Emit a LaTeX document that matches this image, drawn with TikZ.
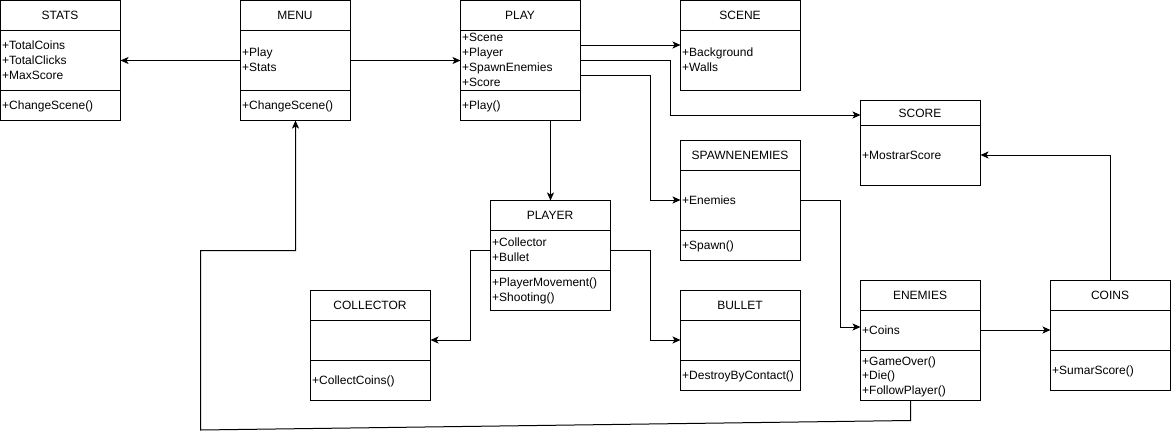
\documentclass[tikz,border=0pt]{standalone}
\usepackage{fontspec}
\setmainfont{Liberation Sans}
\usetikzlibrary{arrows.meta}
\tikzset{
  box/.style={draw, line width=1pt, anchor=north west, inner sep=0pt, outer sep=0pt, minimum width=120pt},
  hdr/.style={inner sep=0pt, yshift=-1.2pt, font=\fontsize{12}{14}\selectfont, text height=9pt, text depth=2.5pt},
  attr/.style={anchor=west, inner sep=0pt, yshift=-1.2pt, font=\fontsize{12}{14}\selectfont, text height=9pt, text depth=3pt},
  div/.style={line width=1pt},
  conn/.style={line width=1pt},
  arr/.style={line width=1pt, -{Stealth[length=8pt,width=7pt,inset=2pt]}}
}
\begin{document}
\begin{tikzpicture}[x=1pt,y=-1pt]
\useasboundingbox (0,0) rectangle (1171,439);

% STATS
\node[box, minimum height=120pt] (stats) at (0.5,0.5) {};
\node[hdr] (statsT) at (60,15) {STATS};
\draw[div] (stats.west |- 0,30) -- (stats.east |- 0,30);
\draw[div] (stats.west |- 0,90) -- (stats.east |- 0,90);
\node[attr] (statsA1) at (2,45) {+TotalCoins};
\node[attr] (statsA2) at (2,60) {+TotalClicks};
\node[attr] (statsA3) at (2,75) {+MaxScore};
\node[attr] (statsM1) at (2,105) {+ChangeScene()};

% MENU
\node[box, minimum width=110pt, minimum height=120pt] (menu) at (240.5,0.5) {};
\node[hdr] (menuT) at (295,15) {MENU};
\draw[div] (menu.west |- 0,30) -- (menu.east |- 0,30);
\draw[div] (menu.west |- 0,90) -- (menu.east |- 0,90);
\node[attr] (menuA1) at (242,52.5) {+Play};
\node[attr] (menuA2) at (242,67.5) {+Stats};
\node[attr] (menuM1) at (242,105) {+ChangeScene()};

% PLAY
\node[box, minimum height=120pt] (play) at (460.5,0.5) {};
\node[hdr] (playT) at (520,15) {PLAY};
\draw[div] (play.west |- 0,30) -- (play.east |- 0,30);
\draw[div] (play.west |- 0,90) -- (play.east |- 0,90);
\node[attr] (playA1) at (462,37.5) {+Scene};
\node[attr] (playA2) at (462,52.5) {+Player};
\node[attr] (playA3) at (462,67.5) {+SpawnEnemies};
\node[attr] (playA4) at (462,82.5) {+Score};
\node[attr] (playM1) at (462,105) {+Play()};

% SCENE
\node[box, minimum height=90pt] (scene) at (680.5,0.5) {};
\node[hdr] (sceneT) at (740,15) {SCENE};
\draw[div] (scene.west |- 0,30) -- (scene.east |- 0,30);
\node[attr] (sceneA1) at (682,52.5) {+Background};
\node[attr] (sceneA2) at (682,67.5) {+Walls};

% SCORE
\node[box, minimum height=85pt] (score) at (860.5,100.5) {};
\node[hdr] (scoreT) at (920,113) {SCORE};
\draw[div] (score.west |- 0,125.5) -- (score.east |- 0,125.5);
\node[attr] (scoreA1) at (862,155) {+MostrarScore};

% SPAWNENEMIES
\node[box, minimum height=120pt] (spawn) at (680.5,140.5) {};
\node[hdr] (spawnT) at (740,155) {SPAWNENEMIES};
\draw[div] (spawn.west |- 0,170.5) -- (spawn.east |- 0,170.5);
\draw[div] (spawn.west |- 0,230.5) -- (spawn.east |- 0,230.5);
\node[attr] (spawnA1) at (682,200) {+Enemies};
\node[attr] (spawnM1) at (682,245) {+Spawn()};

% PLAYER
\node[box, minimum height=110pt] (player) at (490.5,200.5) {};
\node[hdr] (playerT) at (550,215) {PLAYER};
\draw[div] (player.west |- 0,230.5) -- (player.east |- 0,230.5);
\draw[div] (player.west |- 0,270.5) -- (player.east |- 0,270.5);
\node[attr] (playerA1) at (492,242.5) {+Collector};
\node[attr] (playerA2) at (492,257.5) {+Bullet};
\node[attr] (playerM1) at (492,282.5) {+PlayerMovement()};
\node[attr] (playerM2) at (492,297.5) {+Shooting()};

% COLLECTOR
\node[box, minimum height=110pt] (collector) at (310.5,290.5) {};
\node[hdr] (collectorT) at (370,305) {COLLECTOR};
\draw[div] (collector.west |- 0,320.5) -- (collector.east |- 0,320.5);
\draw[div] (collector.west |- 0,360.5) -- (collector.east |- 0,360.5);
\node[attr] (collectorM1) at (312,380) {+CollectCoins()};

% BULLET
\node[box, minimum height=100pt] (bullet) at (680.5,290.5) {};
\node[hdr] (bulletT) at (740,305) {BULLET};
\draw[div] (bullet.west |- 0,320.5) -- (bullet.east |- 0,320.5);
\draw[div] (bullet.west |- 0,360.5) -- (bullet.east |- 0,360.5);
\node[attr] (bulletM1) at (682,375) {+DestroyByContact()};

% ENEMIES
\node[box, minimum height=120pt] (enemies) at (860.5,280.5) {};
\node[hdr] (enemiesT) at (920,295) {ENEMIES};
\draw[div] (enemies.west |- 0,310.5) -- (enemies.east |- 0,310.5);
\draw[div] (enemies.west |- 0,350.5) -- (enemies.east |- 0,350.5);
\node[attr] (enemiesA1) at (862,330) {+Coins};
\node[attr] (enemiesM1) at (862,361.5) {+GameOver()};
\node[attr] (enemiesM2) at (862,375.5) {+Die()};
\node[attr] (enemiesM3) at (862,390) {+FollowPlayer()};

% COINS
\node[box, minimum height=110pt] (coins) at (1050.5,280.5) {};
\node[hdr] (coinsT) at (1110,295) {COINS};
\draw[div] (coins.west |- 0,310.5) -- (coins.east |- 0,310.5);
\draw[div] (coins.west |- 0,350.5) -- (coins.east |- 0,350.5);
\node[attr] (coinsM1) at (1052,370) {+SumarScore()};

% connectors
\draw[arr] (menu.west |- 0,60.5) -- (stats.east |- 0,60.5);
\draw[arr] (menu.east |- 0,60.5) -- (play.west |- 0,60.5);
\draw[arr] (play.east |- 0,45) -- (scene.west |- 0,45);
\draw[arr] (play.east |- 0,60.5) -| (670.5,115) -- (score.west |- 0,115);
\draw[arr] (play.east |- 0,75.5) -| (650.5,200) -- (spawn.west |- 0,200);
\draw[arr] (play.south -| 550.5,0) -- (player.north -| 550.5,0);
\draw[arr] (player.west |- 0,250.5) -| (470.5,340) -- (collector.east |- 0,340);
\draw[arr] (player.east |- 0,250.5) -| (650.5,340) -- (bullet.west |- 0,340);
\draw[arr] (spawn.east |- 0,200) -| (840.5,327) -- (enemies.west |- 0,327);
\draw[arr] (enemies.east |- 0,330) -- (coins.west |- 0,330);
\draw[arr] (coins.north -| 1110.5,0) |- (score.east |- 0,155);
\draw[arr] (enemies.south -| 910.5,0) -- (910.5,420.5) -- (200.5,430) -- (200.5,250.5) -| (menu.south -| 295.5,0);
\end{tikzpicture}
\end{document}
